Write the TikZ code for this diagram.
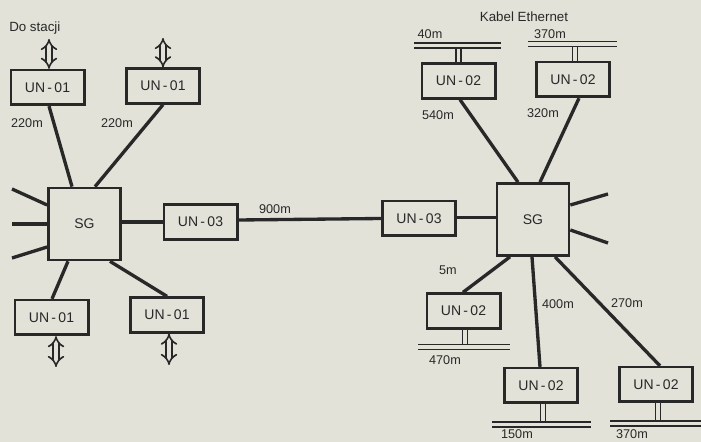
\documentclass[tikz,border=0pt]{standalone}
\usepackage{fontspec}
\setmainfont{Liberation Sans}
\usetikzlibrary{arrows.meta,calc}
\definecolor{paper}{RGB}{226,226,217}
\definecolor{ink}{RGB}{40,40,40}
\begin{document}
\begin{tikzpicture}[x=0.75pt,y=-0.75pt,
  unbox/.style={draw=ink,line width=2pt,inner sep=0pt,minimum width=55pt,minimum height=26pt,
    text=ink,font=\fontsize{10.5}{12}\selectfont},
  sgbox/.style={draw=ink,line width=2pt,inner sep=0pt,minimum width=54pt,minimum height=54pt,
    text=ink,font=\fontsize{10.5}{12}\selectfont},
  conn/.style={draw=ink,line width=2.5pt},
  lbl/.style={text=ink,inner sep=0pt,font=\fontsize{9.5}{11}\selectfont},
  ebar/.style={draw=ink,double=paper,double distance=2.4pt,line width=1.2pt},
  dblarrow/.style={draw=ink,double=paper,double distance=3pt,line width=1.2pt,{Implies[scale=1.35]}-{Implies[scale=1.35]}}]
\fill[paper] (0,0) rectangle (701,442);
\useasboundingbox (0,0) rectangle (701,442);

% nodes
\node[unbox] (a1) at (47.5,87.5) {UN{\,}-{\,}01};
\node[unbox] (a2) at (163,86) {UN{\,}-{\,}01};
\node[unbox] (a3) at (51.5,317.5) {UN{\,}-{\,}01};
\node[unbox] (a4) at (167,315) {UN{\,}-{\,}01};
\node[sgbox] (sgL) at (84.5,224) {SG};
\node[unbox] (u3L) at (200.5,222) {UN{\,}-{\,}03};
\node[unbox] (u3R) at (419,218.5) {UN{\,}-{\,}03};
\node[sgbox] (sgR) at (533,219.5) {SG};
\node[unbox] (b1) at (458.5,81) {UN{\,}-{\,}02};
\node[unbox] (b2) at (573,79.5) {UN{\,}-{\,}02};
\node[unbox] (b3) at (463.5,311) {UN{\,}-{\,}02};
\node[unbox] (b4) at (541,385.5) {UN{\,}-{\,}02};
\node[unbox] (b5) at (656,384.5) {UN{\,}-{\,}02};

% free-end coordinates
\coordinate (l1) at (12,189);
\coordinate (l2) at (12,224);
\coordinate (l3) at (12,258);
\coordinate (r1) at (608,194);
\coordinate (r2) at (608,243);
\coordinate (ar1) at (49,39);
\coordinate (ar2) at (163,38);
\coordinate (ar3) at (56,367);
\coordinate (ar4) at (169,365);
\coordinate (e1a) at (414,45.5);
\coordinate (e1b) at (501,45.5);
\coordinate (e2a) at (528,44);
\coordinate (e2b) at (617,44);
\coordinate (e3a) at (418,347);
\coordinate (e3b) at (510,347);
\coordinate (e4a) at (492,424.5);
\coordinate (e4b) at (591,424.5);
\coordinate (e5a) at (610,423.5);
\coordinate (e5b) at (703,423.5);

% connectors
\draw[conn] ($(a1.south)+(1.5,0)$) -- ($(sgL.north)+(-12.5,0)$);
\draw[conn] (a2.south) -- ($(sgL.north)+(10.5,0)$);
\draw[conn] ($(a3.north)+(0.5,0)$) -- ($(sgL.south)+(-16.5,0)$);
\draw[conn] (a4.north) -- ($(sgL.south)+(25.5,0)$);
\draw[conn] (l1) -- ($(sgL.west)+(0,-19)$);
\draw[conn] (l2) -- (sgL.west);
\draw[conn] (l3) -- ($(sgL.west)+(0,23)$);
\draw[conn] (sgL.east |- u3L.west) -- (u3L.west);
\draw[conn] ($(u3L.east)+(0,-2)$) -- ($(u3R.west)+(0,0)$);
\draw[conn] ($(u3R.east)+(0,-1)$) -- ($(u3R.east -| sgR.west)+(0,-1)$);
\draw[conn] ($(sgR.east)+(0,-14.5)$) -- (r1);
\draw[conn] ($(sgR.east)+(0,10.5)$) -- (r2);
\draw[conn] ($(b1.south)+(1.5,0)$) -- ($(sgR.north)+(-15,0)$);
\draw[conn] ($(b2.south)+(6,0)$) -- ($(sgR.north)+(7,0)$);
\draw[conn] ($(sgR.south)+(-23,0)$) -- ($(b3.north)+(-0.5,0)$);
\draw[conn] ($(sgR.south)+(-1,0)$) -- ($(b4.north)+(-1,0)$);
\draw[conn] ($(sgR.south)+(22,0)$) -- ($(b5.north)+(4,0)$);

% station arrows
\draw[dblarrow] ($(a1.north)+(1.5,0)$) -- (ar1);
\draw[dblarrow] (a2.north) -- (ar2);
\draw[dblarrow] ($(a3.south)+(4.5,0)$) -- (ar3);
\draw[dblarrow] ($(a4.south)+(2,0)$) -- (ar4);

% Ethernet cables
\draw[ebar] (b1.north) -- (b1.north |- e1a);
\draw[ebar] (e1a) -- (e1b);
\draw[ebar] ($(b2.north)+(2,0)$) -- ($(b2.north |- e2a)+(2,0)$);
\draw[ebar] (e2a) -- (e2b);
\draw[ebar] ($(b3.south)+(1.5,0)$) -- ($(b3.south |- e3a)+(1.5,0)$);
\draw[ebar] (e3a) -- (e3b);
\draw[ebar] ($(b4.south)+(2,0)$) -- ($(b4.south |- e4a)+(2,0)$);
\draw[ebar] (e4a) -- (e4b);
\draw[ebar] ($(b5.south)+(2,0)$) -- ($(b5.south |- e5a)+(2,0)$);
\draw[ebar] (e5a) -- (e5b);

% labels
\node[lbl,anchor=west,font=\fontsize{10}{12}\selectfont] (t0) at (9,28) {Do stacji};
\node[lbl] (t1) at (27,123) {220m};
\node[lbl] (t2) at (117,123) {220m};
\node[lbl,font=\fontsize{10}{12}\selectfont] (t3) at (524,17) {Kabel Ethernet};
\node[lbl] (t4) at (430,34) {40m};
\node[lbl] (t5) at (550,34) {370m};
\node[lbl] (t6) at (438,115) {540m};
\node[lbl] (t7) at (543,113) {320m};
\node[lbl] (t8) at (275,209) {900m};
\node[lbl] (t9) at (448,270) {5m};
\node[lbl] (t10) at (558,304) {400m};
\node[lbl] (t11) at (627,303) {270m};
\node[lbl] (t12) at (445,360) {470m};
\node[lbl] (t13) at (517,434.5) {150m};
\node[lbl] (t14) at (632,434.5) {370m};
\end{tikzpicture}
\end{document}
